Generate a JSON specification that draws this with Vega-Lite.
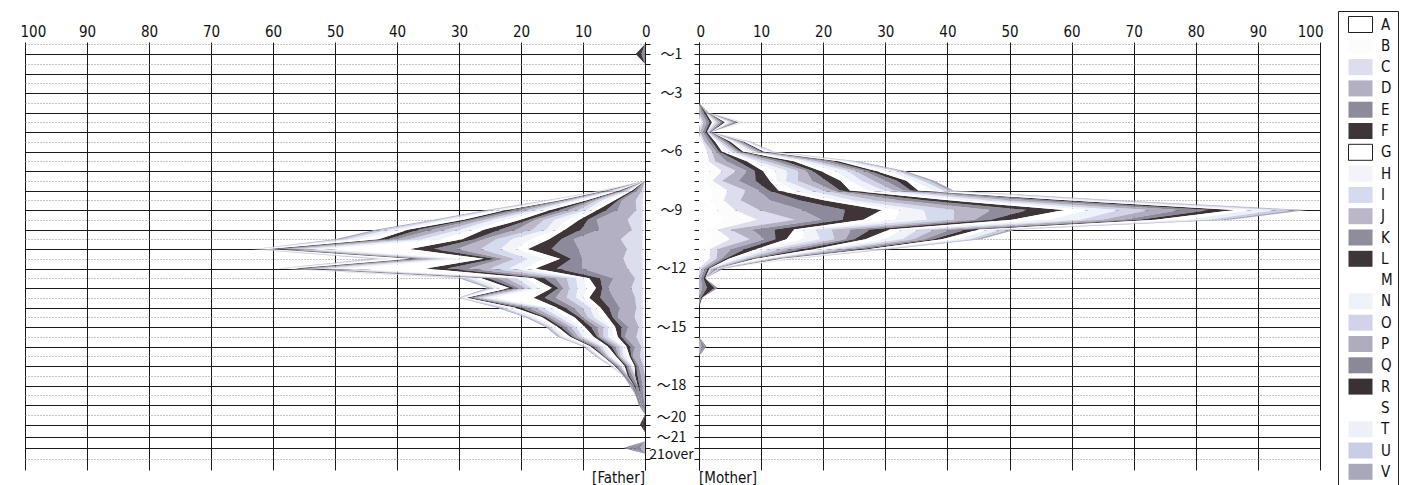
{
  "$schema": "https://vega.github.io/schema/vega-lite/v6.json",
  "autosize": {"type": "pad"},
  "padding": {"left": 20, "top": 10, "right": 5, "bottom": 2},
  "background": "white",
  "bounds": "flush",
  "spacing": 54,
  "datasets": {
    "father": [
      {"k":0.5,"A":0,"B":0,"C":0,"D":0,"E":0,"F":0,"G":0,"H":0,"I":0,"J":0,"K":0,"L":0,"M":0,"N":0,"O":0,"P":0,"Q":0,"R":0,"S":0,"T":0,"U":0,"V":0},
      {"k":1,"A":0,"B":0,"C":0,"D":0,"E":0.6,"F":0.9,"G":0,"H":0,"I":0,"J":0,"K":0,"L":0,"M":0,"N":0,"O":0,"P":0,"Q":0,"R":0,"S":0,"T":0,"U":0,"V":0},
      {"k":1.5,"A":0,"B":0,"C":0,"D":0,"E":0,"F":0,"G":0,"H":0,"I":0,"J":0,"K":0,"L":0,"M":0,"N":0,"O":0,"P":0,"Q":0,"R":0,"S":0,"T":0,"U":0,"V":0},
      {"k":7.5,"A":0,"B":0,"C":0,"D":0,"E":0,"F":0,"G":0,"H":0,"I":0,"J":0,"K":0,"L":0,"M":0,"N":0,"O":0,"P":0,"Q":0,"R":0,"S":0,"T":0,"U":0,"V":0},
      {"k":8,"A":0.1,"B":0.1,"C":0.3,"D":0.7,"E":0.5,"F":0.4,"G":0.2,"H":0.3,"I":0.4,"J":0.4,"K":0.4,"L":0.4,"M":0.3,"N":0.4,"O":0.4,"P":0.4,"Q":0.4,"R":0.3,"S":0.2,"T":0.3,"U":0.2,"V":0.1},
      {"k":8.5,"A":0.2,"B":0.2,"C":1.1,"D":2.2,"E":0.6,"F":0.6,"G":1,"H":1,"I":0.8,"J":0.6,"K":0.5,"L":0.6,"M":1.1,"N":1,"O":0.6,"P":0.6,"Q":0.5,"R":0.5,"S":1,"T":0.6,"U":0.3,"V":0.3},
      {"k":9,"A":0.2,"B":0.2,"C":1,"D":3,"E":1.8,"F":1.5,"G":0.8,"H":1,"I":1.3,"J":1.5,"K":1.5,"L":1.5,"M":1,"N":1.3,"O":1.3,"P":1.3,"Q":1.3,"R":1,"S":0.8,"T":1,"U":0.8,"V":0.5},
      {"k":9.5,"A":0.2,"B":0.2,"C":2.4,"D":5,"E":1.4,"F":1.4,"G":2,"H":2,"I":1.7,"J":1.4,"K":1,"L":1.4,"M":2.4,"N":2,"O":1.4,"P":1.4,"Q":1,"R":1,"S":2,"T":1.4,"U":0.7,"V":0.7},
      {"k":10,"A":0.2,"B":0.2,"C":1.7,"D":5.2,"E":3,"F":2.6,"G":1.3,"H":1.7,"I":2.2,"J":2.6,"K":2.6,"L":2.6,"M":1.7,"N":2.2,"O":2.2,"P":2.2,"Q":2.2,"R":1.7,"S":1.3,"T":1.7,"U":1.3,"V":0.9},
      {"k":10.5,"A":0.2,"B":0.2,"C":3.5,"D":7.6,"E":2,"F":2,"G":3,"H":3,"I":2.5,"J":2,"K":1.5,"L":2,"M":3.5,"N":3,"O":2,"P":2,"Q":1.5,"R":1.5,"S":3,"T":2,"U":1,"V":1},
      {"k":11,"A":0.2,"B":0.2,"C":2.5,"D":7.8,"E":4.4,"F":3.8,"G":1.9,"H":2.5,"I":3.2,"J":3.8,"K":3.8,"L":3.8,"M":13.9,"N":3.2,"O":1.9,"P":1.3,"Q":1.3,"R":1.3,"S":1.3,"T":0.6,"U":0.3,"V":0.3},
      {"k":11.5,"A":0.2,"B":0.2,"C":3.1,"D":6.6,"E":1.8,"F":1.8,"G":2.6,"H":2.6,"I":2.2,"J":1.8,"K":1.3,"L":1.8,"M":3.1,"N":2.6,"O":1.8,"P":1.8,"Q":1.3,"R":1.3,"S":2.6,"T":1.8,"U":0.9,"V":0.9},
      {"k":12,"A":0.2,"B":0.2,"C":2.4,"D":7.3,"E":4.1,"F":3.5,"G":1.8,"H":2.4,"I":3,"J":3.5,"K":3.5,"L":3.5,"M":13,"N":3,"O":1.8,"P":1.2,"Q":1.2,"R":1.2,"S":1.2,"T":0.6,"U":0.3,"V":0.3},
      {"k":12.5,"A":0.2,"B":0.2,"C":1.2,"D":3.5,"E":2.1,"F":1.8,"G":0.9,"H":1.2,"I":1.5,"J":1.8,"K":1.8,"L":1.8,"M":1.2,"N":1.5,"O":1.5,"P":1.5,"Q":1.5,"R":1.2,"S":0.9,"T":1.2,"U":0.9,"V":0.6},
      {"k":13,"A":0.2,"B":0.2,"C":1.8,"D":3.7,"E":1,"F":1,"G":1.5,"H":1.5,"I":1.3,"J":1,"K":0.8,"L":1,"M":1.8,"N":1.5,"O":1,"P":1,"Q":0.8,"R":0.8,"S":1.5,"T":1,"U":0.5,"V":0.5},
      {"k":13.5,"A":0.2,"B":0.2,"C":1.2,"D":3.5,"E":2.1,"F":1.8,"G":0.9,"H":1.2,"I":1.5,"J":1.8,"K":1.8,"L":1.8,"M":6.6,"N":1.5,"O":0.9,"P":0.6,"Q":0.6,"R":0.6,"S":0.6,"T":0.3,"U":0.2,"V":0.2},
      {"k":14,"A":0.2,"B":0.2,"C":1,"D":2.7,"E":1.7,"F":1.4,"G":0.7,"H":1,"I":1.2,"J":1.4,"K":1.4,"L":1.4,"M":1,"N":1.2,"O":1.2,"P":1.2,"Q":1.2,"R":1,"S":0.7,"T":1,"U":0.7,"V":0.5},
      {"k":14.5,"A":0.2,"B":0.2,"C":1.3,"D":2.7,"E":0.8,"F":0.8,"G":1.1,"H":1.1,"I":1,"J":0.8,"K":0.6,"L":0.8,"M":1.3,"N":1.1,"O":0.8,"P":0.8,"Q":0.6,"R":0.6,"S":1.1,"T":0.8,"U":0.4,"V":0.4},
      {"k":15,"A":0.2,"B":0.2,"C":0.6,"D":1.7,"E":1.1,"F":1,"G":0.5,"H":0.6,"I":0.8,"J":1,"K":1,"L":1,"M":0.6,"N":0.8,"O":0.8,"P":0.8,"Q":0.8,"R":0.6,"S":0.5,"T":0.6,"U":0.5,"V":0.3},
      {"k":15.5,"A":0.2,"B":0.2,"C":1,"D":1.8,"E":0.6,"F":0.6,"G":0.8,"H":0.8,"I":0.7,"J":0.6,"K":0.4,"L":0.6,"M":1,"N":0.8,"O":0.6,"P":0.6,"Q":0.4,"R":0.4,"S":0.8,"T":0.6,"U":0.3,"V":0.3},
      {"k":16,"A":0.1,"B":0.1,"C":0.4,"D":1.1,"E":0.7,"F":0.6,"G":0.3,"H":0.4,"I":0.5,"J":0.6,"K":0.6,"L":0.6,"M":0.4,"N":0.5,"O":0.5,"P":0.5,"Q":0.5,"R":0.4,"S":0.3,"T":0.4,"U":0.3,"V":0.2},
      {"k":16.5,"A":0.1,"B":0.1,"C":0.6,"D":1.1,"E":0.3,"F":0.3,"G":0.5,"H":0.5,"I":0.4,"J":0.3,"K":0.2,"L":0.3,"M":0.6,"N":0.5,"O":0.3,"P":0.3,"Q":0.2,"R":0.2,"S":0.5,"T":0.3,"U":0.2,"V":0.2},
      {"k":17,"A":0,"B":0.1,"C":0.2,"D":0.7,"E":0.4,"F":0.3,"G":0.2,"H":0.2,"I":0.3,"J":0.3,"K":0.3,"L":0.3,"M":0.2,"N":0.3,"O":0.3,"P":0.3,"Q":0.3,"R":0.2,"S":0.2,"T":0.2,"U":0.2,"V":0.1},
      {"k":17.5,"A":0,"B":0,"C":0,"D":0.6,"E":0.6,"F":0.4,"G":0,"H":0,"I":0,"J":0.4,"K":0.5,"L":0.3,"M":0,"N":0,"O":0,"P":0.3,"Q":0.4,"R":0,"S":0,"T":0,"U":0,"V":0},
      {"k":18,"A":0,"B":0,"C":0,"D":0.4,"E":0.5,"F":0.3,"G":0,"H":0,"I":0,"J":0,"K":0.4,"L":0.2,"M":0,"N":0,"O":0,"P":0,"Q":0.4,"R":0,"S":0,"T":0,"U":0,"V":0.3},
      {"k":18.5,"A":0,"B":0,"C":0,"D":0.3,"E":0.4,"F":0,"G":0,"H":0,"I":0,"J":0,"K":0.4,"L":0,"M":0,"N":0,"O":0,"P":0,"Q":0.4,"R":0,"S":0,"T":0,"U":0,"V":0},
      {"k":19,"A":0,"B":0,"C":0,"D":0,"E":0.4,"F":0,"G":0,"H":0,"I":0,"J":0,"K":0.3,"L":0,"M":0,"N":0,"O":0,"P":0,"Q":0.3,"R":0,"S":0,"T":0,"U":0,"V":0},
      {"k":19.5,"A":0,"B":0,"C":0,"D":0,"E":0,"F":0,"G":0,"H":0,"I":0,"J":0,"K":0,"L":0,"M":0,"N":0,"O":0,"P":0,"Q":0,"R":0,"S":0,"T":0,"U":0,"V":0},
      {"k":20,"A":0,"B":0,"C":0,"D":0,"E":0,"F":0.4,"G":0,"H":0,"I":0,"J":0,"K":0,"L":0.4,"M":0,"N":0,"O":0,"P":0,"Q":0,"R":0,"S":0,"T":0,"U":0,"V":0},
      {"k":20.4,"A":0,"B":0,"C":0,"D":0,"E":0,"F":0,"G":0,"H":0,"I":0,"J":0,"K":0,"L":0,"M":0,"N":0,"O":0,"P":0,"Q":0,"R":0,"S":0,"T":0,"U":0,"V":0},
      {"k":20.85,"A":0,"B":0,"C":0,"D":0,"E":0,"F":0,"G":0,"H":0,"I":0,"J":0,"K":0,"L":0,"M":0,"N":0,"O":0,"P":0,"Q":0,"R":0,"S":0,"T":0,"U":0,"V":0},
      {"k":21.2,"A":0,"B":0,"C":0,"D":0.8,"E":1,"F":0,"G":0,"H":0,"I":0,"J":0,"K":0.8,"L":0,"M":0,"N":0,"O":0,"P":0,"Q":0.9,"R":0,"S":0,"T":0,"U":0,"V":0},
      {"k":21.5,"A":0,"B":0,"C":0,"D":0,"E":0,"F":0,"G":0,"H":0,"I":0,"J":0,"K":0,"L":0,"M":0,"N":0,"O":0,"P":0,"Q":0,"R":0,"S":0,"T":0,"U":0,"V":0}
    ],
    "mother": [
      {"k":3.5,"A":0,"B":0,"C":0,"D":0,"E":0,"F":0,"G":0,"H":0,"I":0,"J":0,"K":0,"L":0,"M":0,"N":0,"O":0,"P":0,"Q":0,"R":0,"S":0,"T":0,"U":0,"V":0},
      {"k":4,"A":0,"B":0,"C":0,"D":0.4,"E":0.4,"F":0.3,"G":0,"H":0,"I":0,"J":0.2,"K":0.2,"L":0,"M":0,"N":0,"O":0,"P":0,"Q":0,"R":0,"S":0,"T":0,"U":0,"V":0},
      {"k":4.5,"A":0.2,"B":0.2,"C":0.3,"D":0.5,"E":0.5,"F":0.4,"G":0.2,"H":0.3,"I":0.4,"J":0.4,"K":0.4,"L":0.4,"M":0.3,"N":0.4,"O":0.4,"P":0.4,"Q":0.4,"R":0.3,"S":0.2,"T":0.3,"U":0.2,"V":0.1},
      {"k":5,"A":0,"B":0,"C":0.2,"D":0.4,"E":0.4,"F":0.3,"G":0,"H":0,"I":0.2,"J":0.2,"K":0.3,"L":0,"M":0,"N":0,"O":0,"P":0,"Q":0,"R":0,"S":0,"T":0,"U":0,"V":0},
      {"k":5.5,"A":0.3,"B":0.3,"C":0.3,"D":0.6,"E":0.6,"F":0.5,"G":0.3,"H":0.3,"I":0.4,"J":0.5,"K":0.5,"L":0.5,"M":0.3,"N":0.4,"O":0.4,"P":0.4,"Q":0.4,"R":0.3,"S":0.3,"T":0.3,"U":0.3,"V":0.2},
      {"k":6,"A":0.6,"B":0.7,"C":0.8,"D":0.6,"E":0.5,"F":0.5,"G":0.7,"H":0.7,"I":0.6,"J":0.5,"K":0.4,"L":0.5,"M":0.8,"N":0.7,"O":0.5,"P":0.5,"Q":0.4,"R":0.4,"S":0.7,"T":0.5,"U":0.2,"V":0.2},
      {"k":6.5,"A":0.8,"B":0.8,"C":1,"D":1.8,"E":1.8,"F":1.5,"G":0.8,"H":1,"I":1.3,"J":1.5,"K":1.5,"L":1.5,"M":1,"N":1.3,"O":1.3,"P":1.3,"Q":1.3,"R":1,"S":0.8,"T":1,"U":0.8,"V":0.5},
      {"k":7,"A":1.7,"B":2,"C":2.3,"D":1.7,"E":1.3,"F":1.3,"G":2,"H":2,"I":1.7,"J":1.3,"K":1,"L":1.3,"M":2.3,"N":2,"O":1.3,"P":1.3,"Q":1,"R":1,"S":2,"T":1.3,"U":0.7,"V":0.7},
      {"k":7.5,"A":1.1,"B":1.1,"C":1.5,"D":2.7,"E":2.7,"F":2.3,"G":1.1,"H":1.5,"I":1.9,"J":2.3,"K":2.3,"L":2.3,"M":1.5,"N":1.9,"O":1.9,"P":1.9,"Q":1.9,"R":1.5,"S":1.1,"T":1.5,"U":1.1,"V":0.8},
      {"k":8,"A":2.1,"B":2.5,"C":2.9,"D":2.1,"E":1.6,"F":1.6,"G":2.5,"H":2.5,"I":2.1,"J":1.6,"K":1.2,"L":1.6,"M":2.9,"N":2.5,"O":1.6,"P":1.6,"Q":1.2,"R":1.2,"S":2.5,"T":1.6,"U":0.8,"V":0.8},
      {"k":8.5,"A":2,"B":2,"C":2.7,"D":4.7,"E":4.7,"F":4,"G":2,"H":2.7,"I":3.4,"J":4,"K":4,"L":4,"M":2.7,"N":3.4,"O":3.4,"P":3.4,"Q":3.4,"R":2.7,"S":2,"T":2.7,"U":2,"V":1.3},
      {"k":9,"A":2.9,"B":2.9,"C":3.9,"D":6.9,"E":6.9,"F":5.9,"G":2.9,"H":3.9,"I":4.9,"J":5.9,"K":5.9,"L":5.9,"M":3.9,"N":4.9,"O":4.9,"P":4.9,"Q":4.9,"R":3.9,"S":2.9,"T":3.9,"U":2.9,"V":2},
      {"k":9.5,"A":4.3,"B":5.1,"C":6,"D":4.3,"E":3.4,"F":3.4,"G":5.1,"H":5.1,"I":4.3,"J":3.4,"K":2.6,"L":3.4,"M":6,"N":5.1,"O":3.4,"P":3.4,"Q":2.6,"R":2.6,"S":5.1,"T":3.4,"U":1.7,"V":1.7},
      {"k":10,"A":1.5,"B":1.5,"C":2,"D":3.6,"E":3.6,"F":3.1,"G":1.5,"H":2,"I":2.6,"J":3.1,"K":3.1,"L":3.1,"M":2,"N":2.6,"O":2.6,"P":2.6,"Q":2.6,"R":2,"S":1.5,"T":2,"U":1.5,"V":1},
      {"k":10.5,"A":2.3,"B":2.7,"C":3.2,"D":2.3,"E":1.8,"F":1.8,"G":2.7,"H":2.7,"I":2.3,"J":1.8,"K":1.4,"L":1.8,"M":3.2,"N":2.7,"O":1.8,"P":1.8,"Q":1.4,"R":1.4,"S":2.7,"T":1.8,"U":0.9,"V":0.9},
      {"k":11,"A":0.9,"B":0.9,"C":1.2,"D":2.2,"E":2.2,"F":1.9,"G":0.9,"H":1.2,"I":1.6,"J":1.9,"K":1.9,"L":1.9,"M":1.2,"N":1.6,"O":1.6,"P":1.6,"Q":1.6,"R":1.2,"S":0.9,"T":1.2,"U":0.9,"V":0.6},
      {"k":11.5,"A":0.8,"B":0.9,"C":1.1,"D":0.8,"E":0.6,"F":0.6,"G":0.9,"H":0.9,"I":0.8,"J":0.6,"K":0.5,"L":0.6,"M":1.1,"N":0.9,"O":0.6,"P":0.6,"Q":0.5,"R":0.5,"S":0.9,"T":0.6,"U":0.3,"V":0.3},
      {"k":12,"A":0,"B":0,"C":0.4,"D":0.5,"E":0.5,"F":0.3,"G":0,"H":0,"I":0.4,"J":0.5,"K":0.4,"L":0,"M":0,"N":0,"O":0.4,"P":0.3,"Q":0.3,"R":0,"S":0,"T":0,"U":0,"V":0},
      {"k":12.5,"A":0,"B":0,"C":0,"D":0.3,"E":0.4,"F":0.3,"G":0,"H":0,"I":0,"J":0,"K":0,"L":0,"M":0,"N":0,"O":0,"P":0,"Q":0,"R":0,"S":0,"T":0,"U":0,"V":0},
      {"k":13,"A":0,"B":0,"C":0,"D":0.5,"E":0.8,"F":1.2,"G":0,"H":0,"I":0,"J":0,"K":0.5,"L":0,"M":0,"N":0,"O":0,"P":0,"Q":0,"R":0,"S":0,"T":0,"U":0,"V":0},
      {"k":13.5,"A":0,"B":0,"C":0,"D":0,"E":0.3,"F":0.2,"G":0,"H":0,"I":0,"J":0,"K":0,"L":0,"M":0,"N":0,"O":0,"P":0,"Q":0,"R":0,"S":0,"T":0,"U":0,"V":0},
      {"k":14,"A":0,"B":0,"C":0,"D":0,"E":0,"F":0,"G":0,"H":0,"I":0,"J":0,"K":0,"L":0,"M":0,"N":0,"O":0,"P":0,"Q":0,"R":0,"S":0,"T":0,"U":0,"V":0},
      {"k":15.5,"A":0,"B":0,"C":0,"D":0,"E":0,"F":0,"G":0,"H":0,"I":0,"J":0,"K":0,"L":0,"M":0,"N":0,"O":0,"P":0,"Q":0,"R":0,"S":0,"T":0,"U":0,"V":0},
      {"k":16,"A":0,"B":0,"C":0,"D":0.4,"E":0.5,"F":0,"G":0,"H":0,"I":0,"J":0,"K":0.3,"L":0,"M":0,"N":0,"O":0,"P":0,"Q":0,"R":0,"S":0,"T":0,"U":0,"V":0},
      {"k":16.5,"A":0,"B":0,"C":0,"D":0,"E":0,"F":0,"G":0,"H":0,"I":0,"J":0,"K":0,"L":0,"M":0,"N":0,"O":0,"P":0,"Q":0,"R":0,"S":0,"T":0,"U":0,"V":0}
    ]
  },
  "hconcat": [
    {
      "width": 620,
      "height": 428,
      "data": {"name": "father"},
      "transform": [{"fold": ["A","B","C","D","E","F","G","H","I","J","K","L","M","N","O","P","Q","R","S","T","U","V"], "as": ["s", "v"]}],
      "title": {"text": "[Father]", "orient": "bottom", "anchor": "end", "frame": "group", "fontSize": 15, "fontWeight": "normal", "font": "Liberation Sans Narrow, DejaVu Sans Condensed, Liberation Sans", "offset": 1, "color": "#111"},
      "mark": {"type": "area", "orient": "horizontal", "interpolate": "linear"},
      "encoding": {
        "y": {
          "field": "k", "type": "quantitative",
          "scale": {"domain": [0.38, 22.33], "reverse": true, "nice": false, "zero": false},
          "axis": {
            "orient": "right", "title": null,
            "values": [0.5,1,1.5,2,2.5,3,3.5,4,4.5,5,5.5,6,6.5,7,7.5,8,8.5,9,9.5,10,10.5,11,11.5,12,12.5,13,13.5,14,14.5,15,15.5,16,16.5,17,17.5,18,18.5,19,19.5,20,20.64,21.2,21.77],
            "grid": true,
            "gridColor": {"condition": {"test": "datum.value % 1 != 0 && datum.value != 20.64 && datum.value != 21.2", "value": "#8a8a8a"}, "value": "#1a1a1a"},
            "gridDash": {"condition": {"test": "datum.value % 1 != 0 && datum.value != 20.64 && datum.value != 21.2", "value": [1, 2]}, "value": []},
            "gridWidth": 1,
            "tickSize": 5, "tickColor": "#1a1a1a", "domainColor": "#1a1a1a", "domainWidth": 1,
            "labelOverlap": false,
            "labelExpr": "datum.value==1?'〜1':datum.value==3?'〜3':datum.value==6?'〜6':datum.value==9?'〜9':datum.value==12?'〜12':datum.value==15?'〜15':datum.value==18?'〜18':datum.value==20?'〜20':datum.value==20.64?'〜21':datum.value==21.2?'21over':''",
            "labelFont": "Noto Sans CJK JP",
            "labelFontSize": 14,
            "labelColor": "#111",
            "labelAlign": "center",
            "labelPadding": 21,
            "labelBaseline": {"condition": [{"test": "datum.value == 21.2", "value": "top"}, {"test": "datum.value == 20", "value": "bottom"}], "value": "middle"}
          }
        },
        "x": {
          "field": "v", "type": "quantitative", "stack": "zero",
          "scale": {"domain": [0, 100], "reverse": true, "nice": false},
          "axis": {
            "orient": "top", "title": null,
            "values": [0,10,20,30,40,50,60,70,80,90,100],
            "grid": true, "gridColor": "#1a1a1a", "gridWidth": 1,
            "ticks": false, "domain": false,
            "labelFontSize": 15, "labelFont": "Liberation Sans Narrow, DejaVu Sans Condensed, Liberation Sans", "labelColor": "#111",
            "labelPadding": 3, "labelFlush": true, "labelFlushOffset": 5
          }
        },
        "color": {
          "field": "s", "type": "nominal",
          "scale": {
            "domain": ["A","B","C","D","E","F","G","H","I","J","K","L","M","N","O","P","Q","R","S","T","U","V"],
            "range": ["#ffffff","#fcfcfd","#dcdded","#b3b0c3","#8d8a9b","#3f3538","#ffffff","#f3f4fa","#d5dbef","#bcb7c8","#8f8c9b","#3d3537","#ffffff","#eef2fa","#d2d3e8","#afacbe","#8b8997","#3b3134","#ffffff","#edf0f8","#c8cee6","#a9a7ba"]
          },
          "legend": {
            "title": null, "orient": "none", "legendX": 1313, "legendY": -31, "direction": "vertical",
            "symbolType": "M-1.5,-1H1.5V1H-1.5Z", "symbolSize": 256, "symbolStrokeWidth": 1, "symbolOffset": 9,
            "labelOffset": 12, "labelFontSize": 15, "labelFont": "Liberation Sans Narrow, DejaVu Sans Condensed, Liberation Sans", "labelColor": "#111",
            "rowPadding": 0.3, "padding": 5, "strokeColor": "#222",
            "encode": {"symbols": {"update": {"stroke": {"signal": "datum.value==='A'||datum.value==='G'?'#222':'transparent'"}, "opacity": {"value": 1}}}}
          }
        }
      }
    },
    {
      "width": 621,
      "height": 428,
      "data": {"name": "mother"},
      "transform": [{"fold": ["A","B","C","D","E","F","G","H","I","J","K","L","M","N","O","P","Q","R","S","T","U","V"], "as": ["s", "v"]}],
      "title": {"text": "[Mother]", "orient": "bottom", "anchor": "start", "frame": "group", "fontSize": 15, "fontWeight": "normal", "font": "Liberation Sans Narrow, DejaVu Sans Condensed, Liberation Sans", "offset": 1, "color": "#111"},
      "mark": {"type": "area", "orient": "horizontal", "interpolate": "linear"},
      "encoding": {
        "y": {
          "field": "k", "type": "quantitative",
          "scale": {"domain": [0.38, 22.33], "reverse": true, "nice": false, "zero": false},
          "axis": {
            "orient": "left", "title": null, "labels": false,
            "values": [0.5,1,1.5,2,2.5,3,3.5,4,4.5,5,5.5,6,6.5,7,7.5,8,8.5,9,9.5,10,10.5,11,11.5,12,12.5,13,13.5,14,14.5,15,15.5,16,16.5,17,17.5,18,18.5,19,19.5,20,20.64,21.2,21.77],
            "grid": true,
            "gridColor": {"condition": {"test": "datum.value % 1 != 0 && datum.value != 20.64 && datum.value != 21.2", "value": "#8a8a8a"}, "value": "#1a1a1a"},
            "gridDash": {"condition": {"test": "datum.value % 1 != 0 && datum.value != 20.64 && datum.value != 21.2", "value": [1, 2]}, "value": []},
            "gridWidth": 1,
            "tickSize": 5, "tickColor": "#1a1a1a", "domainColor": "#1a1a1a", "domainWidth": 1
          }
        },
        "x": {
          "field": "v", "type": "quantitative", "stack": "zero",
          "scale": {"domain": [0, 100], "nice": false},
          "axis": {
            "orient": "top", "title": null,
            "values": [0,10,20,30,40,50,60,70,80,90,100],
            "grid": true, "gridColor": "#1a1a1a", "gridWidth": 1,
            "ticks": false, "domain": false,
            "labelFontSize": 15, "labelFont": "Liberation Sans Narrow, DejaVu Sans Condensed, Liberation Sans", "labelColor": "#111",
            "labelPadding": 3, "labelFlush": true, "labelFlushOffset": 3
          }
        },
        "color": {
          "field": "s", "type": "nominal",
          "scale": {
            "domain": ["A","B","C","D","E","F","G","H","I","J","K","L","M","N","O","P","Q","R","S","T","U","V"],
            "range": ["#ffffff","#fcfcfd","#dcdded","#b3b0c3","#8d8a9b","#3f3538","#ffffff","#f3f4fa","#d5dbef","#bcb7c8","#8f8c9b","#3d3537","#ffffff","#eef2fa","#d2d3e8","#afacbe","#8b8997","#3b3134","#ffffff","#edf0f8","#c8cee6","#a9a7ba"]
          },
          "legend": {
            "title": null, "orient": "none", "legendX": 1313, "legendY": -31, "direction": "vertical",
            "symbolType": "M-1.5,-1H1.5V1H-1.5Z", "symbolSize": 256, "symbolStrokeWidth": 1, "symbolOffset": 9,
            "labelOffset": 12, "labelFontSize": 15, "labelFont": "Liberation Sans Narrow, DejaVu Sans Condensed, Liberation Sans", "labelColor": "#111",
            "rowPadding": 0.3, "padding": 5, "strokeColor": "#222",
            "encode": {"symbols": {"update": {"stroke": {"signal": "datum.value==='A'||datum.value==='G'?'#222':'transparent'"}, "opacity": {"value": 1}}}}
          }
        }
      }
    }
  ],
  "resolve": {"scale": {"color": "shared"}},
  "config": {
    "view": {"stroke": null},
    "font": "Liberation Sans Narrow, DejaVu Sans Condensed, Liberation Sans"
  }
}
